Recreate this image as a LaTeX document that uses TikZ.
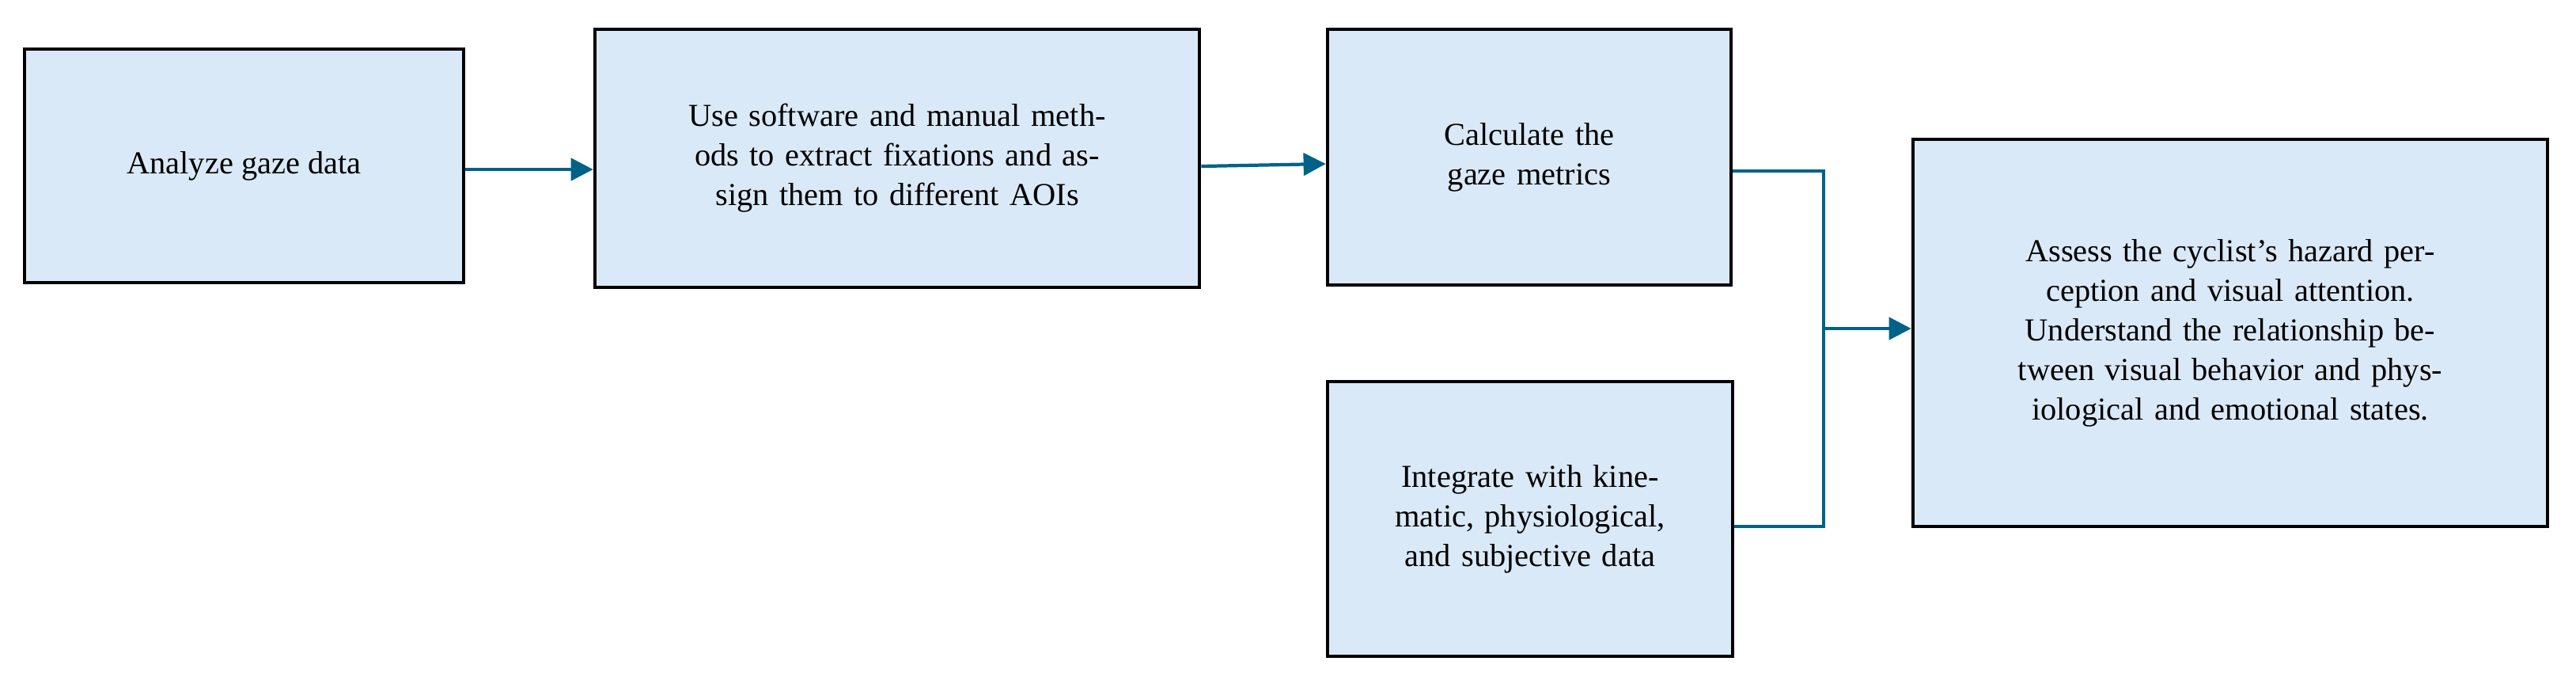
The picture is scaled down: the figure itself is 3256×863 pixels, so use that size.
\documentclass[tikz,border=0pt]{standalone}
\usepackage{fontspec}
\setmainfont{Liberation Serif}
\usetikzlibrary{arrows.meta}
\definecolor{boxfill}{RGB}{218,233,247}
\definecolor{flowline}{RGB}{0,98,135}

\begin{document}
\begin{tikzpicture}[x=0.02cm,y=-0.02cm,line width=1.6pt]
    \tikzstyle{stage}=[draw=black,line width=2.6pt,fill=boxfill,inner sep=6pt,align=center,font=\fontsize{23}{28.5}\selectfont]
    \tikzstyle{flow}=[draw=flowline,line width=2.4pt,-{Triangle[length=16pt,width=16pt]}]
    \tikzstyle{feed}=[draw=flowline,line width=2.4pt]
    \useasboundingbox (0,0) rectangle (3256,863);

    %%% DRAW THE NODES
    \node[stage,minimum width=555*0.02cm,minimum height=295*0.02cm] (analyze) at (308.5,209.5) {Analyze gaze data};
    \node[stage,minimum width=764*0.02cm,minimum height=326*0.02cm,text width=700*0.02cm] (extract) at (1134,200) {Use software and manual methods to extract fixations and assign them to different AOIs};
    \node[stage,minimum width=510*0.02cm,minimum height=323*0.02cm,text width=430*0.02cm] (metrics) at (1933,198.5) {Calculate the gaze metrics};
    \node[stage,minimum width=512*0.02cm,minimum height=347*0.02cm,text width=430*0.02cm] (integrate) at (1934,655.5) {Integrate with kinematic, physiological, and subjective data};
    \node[stage,minimum width=802*0.02cm,minimum height=489*0.02cm,text width=740*0.02cm] (assess) at (2819,420.5) {Assess the cyclist’s hazard perception and visual attention.\\Understand the relationship between visual behavior and physiological and emotional states.};
    \coordinate (merge) at (2305,415);

    %%% DRAW THE PATHS
    \path[flow] (analyze.east |- 0,214) -- (extract.west |- 0,214);
    \path[flow] (extract.east |- 0,210) -- (metrics.west |- 0,207);
    \path[feed] (metrics.east |- 0,216) -| (merge);
    \path[feed] (integrate.east |- 0,665) -| (merge);
    \path[flow] (merge) -- (assess.west |- merge);
\end{tikzpicture}
\end{document}
